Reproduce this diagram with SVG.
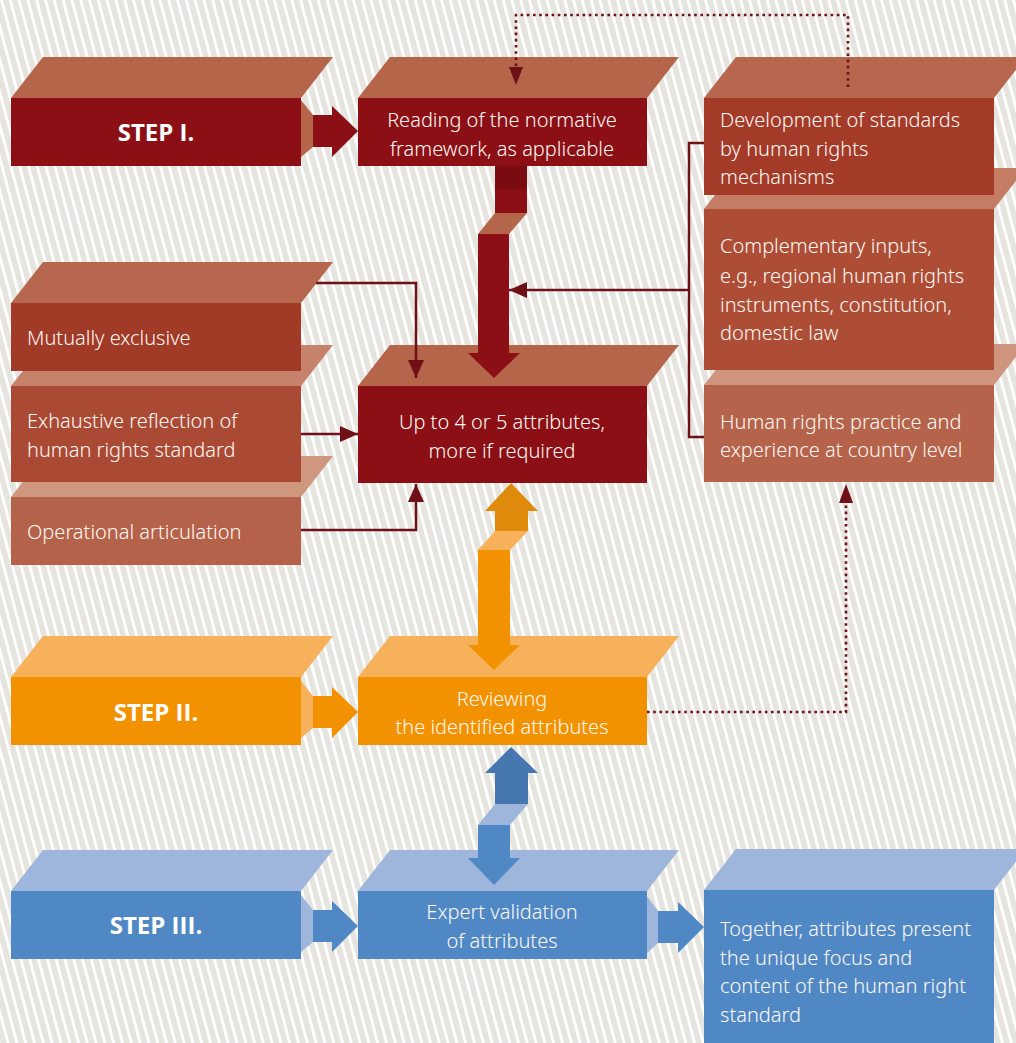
<svg xmlns="http://www.w3.org/2000/svg" width="1016" height="1043" viewBox="0 0 1016 1043">
<defs>
<pattern id="stripes" width="8.5" height="40" patternUnits="userSpaceOnUse" patternTransform="rotate(-15)">
<rect width="8.5" height="40" fill="#e6e4df"/>
<rect x="0" y="0" width="2.8" height="40" fill="#ffffff"/>
</pattern>
<marker id="ah" viewBox="0 0 18 16" refX="18" refY="8" markerWidth="18" markerHeight="16" markerUnits="userSpaceOnUse" orient="auto">
<path d="M0,0 L18,8 L0,16 Z" fill="#6e1016"/>
</marker>
<style>
.txt{font-family:"Noto Sans","DejaVu Sans",sans-serif;font-size:20px;font-weight:300;fill:#fdf8f4}
.step{font-family:"Open Sans","Liberation Sans",sans-serif;font-size:24px;font-weight:bold;fill:#ffffff}
.mid{text-anchor:middle}
.ln{fill:none;stroke:#6e1016;stroke-width:2.5}
.dot{fill:none;stroke:#6e1016;stroke-width:2.6;stroke-dasharray:2.6 3.6}
.redF{fill:#8b0f15}
.redT{fill:#b5654a}
.orF{fill:#f39200}
.orT{fill:#f6b15a}
.blF{fill:#5088c5}
.blT{fill:#9fb6dc}
</style>
</defs>
<rect width="1016" height="1043" fill="url(#stripes)"/>

<!-- Left column, drawn bottom-up -->
<g id="operational">
<polygon points="11,497 301,497 333,456 43,456" fill="#d0977f"/>
<rect x="11" y="497" width="290" height="68" fill="#b5624a"/>
<text class="txt" x="27" y="539">Operational articulation</text>
</g>
<g id="exhaustive">
<polygon points="11,386 301,386 333,345 43,345" fill="#c7826b"/>
<rect x="11" y="386" width="290" height="96" fill="#ab4a34"/>
<text class="txt" x="27" y="428">Exhaustive reflection of</text>
<text class="txt" x="27" y="457">human rights standard</text>
</g>
<g id="mutually">
<polygon points="11,303 301,303 333,262 43,262" fill="#b6674d"/>
<rect x="11" y="303" width="290" height="68" fill="#a13a27"/>
<text class="txt" x="27" y="345">Mutually exclusive</text>
</g>

<!-- Right column, drawn bottom-up -->
<g id="practice">
<polygon points="704,385 994,385 1026,344 736,344" fill="#d0957f"/>
<rect x="704" y="385" width="290" height="97" fill="#b5634b"/>
<text class="txt" x="720" y="429">Human rights practice and</text>
<text class="txt" x="720" y="457">experience at country level</text>
</g>
<g id="complementary">
<polygon points="704,209 994,209 1026,168 736,168" fill="#c47c65"/>
<rect x="704" y="209" width="290" height="161" fill="#ad4d36"/>
<text class="txt" x="720" y="253">Complementary inputs,</text>
<text class="txt" x="720" y="283">e.g., regional human rights</text>
<text class="txt" x="720" y="312">instruments, constitution,</text>
<text class="txt" x="720" y="340">domestic law</text>
</g>
<g id="development">
<polygon points="704,98 994,98 1026,57 736,57" fill="#b6674d"/>
<rect x="704" y="98" width="290" height="97" fill="#a33b28"/>
<text class="txt" x="720" y="127">Development of standards</text>
<text class="txt" x="720" y="156">by human rights</text>
<text class="txt" x="720" y="184">mechanisms</text>
</g>

<!-- Step I row -->
<g id="step1">
<polygon points="11,98 301,98 333,57 43,57" class="redT"/>
<rect x="11" y="98" width="290" height="68" class="redF"/>
<text class="step mid" x="156" y="141">STEP I.</text>
</g>
<g id="reading">
<polygon points="358,98 647,98 679,57 390,57" class="redT"/>
<rect x="358" y="98" width="289" height="68" class="redF"/>
<text class="txt mid" x="502" y="127">Reading of the normative</text>
<text class="txt mid" x="502" y="156">framework, as applicable</text>
</g>
<g id="attributes">
<polygon points="358,386 647,386 679,345 390,345" class="redT"/>
<rect x="358" y="386" width="289" height="97" class="redF"/>
<text class="txt mid" x="502" y="429">Up to 4 or 5 attributes,</text>
<text class="txt mid" x="502" y="458">more if required</text>
</g>

<!-- Step II row -->
<g id="step2">
<polygon points="11,677 301,677 333,636 43,636" class="orT"/>
<rect x="11" y="677" width="290" height="68" class="orF"/>
<text class="step mid" x="156" y="721">STEP II.</text>
</g>
<g id="reviewing">
<polygon points="358,677 647,677 679,636 390,636" class="orT"/>
<rect x="358" y="677" width="289" height="68" class="orF"/>
<text class="txt mid" x="502" y="706">Reviewing</text>
<text class="txt mid" x="502" y="734">the identified attributes</text>
</g>

<!-- Step III row -->
<g id="step3">
<polygon points="11,891 301,891 333,850 43,850" class="blT"/>
<rect x="11" y="891" width="290" height="68" class="blF"/>
<text class="step mid" x="156" y="934">STEP III.</text>
</g>
<g id="expert">
<polygon points="358,891 647,891 679,850 390,850" class="blT"/>
<rect x="358" y="891" width="289" height="68" class="blF"/>
<text class="txt mid" x="502" y="919">Expert validation</text>
<text class="txt mid" x="502" y="948">of attributes</text>
</g>
<g id="together">
<polygon points="704,890 994,890 1026,849 736,849" class="blT"/>
<rect x="704" y="890" width="290" height="153" class="blF"/>
<text class="txt" x="720" y="936">Together, attributes present</text>
<text class="txt" x="720" y="965">the unique focus and</text>
<text class="txt" x="720" y="993">content of the human right</text>
<text class="txt" x="720" y="1022">standard</text>
</g>

<g id="connectors">
<!-- fat horizontal arrows -->
<polygon points="301,100 313,115 313,147 301,157" class="redT"/>
<polygon points="313,115 332,115 332,106 358,131 332,157 332,147 313,147" class="redF"/>
<polygon points="301,681 313,696 313,728 301,738" class="orT"/>
<polygon points="313,696 332,696 332,687 358,712 332,738 332,728 313,728" class="orF"/>
<polygon points="301,895 313,910 313,942 301,952" class="blT"/>
<polygon points="313,910 332,910 332,901 358,926 332,952 332,942 313,942" class="blF"/>
<polygon points="647,896 658,911 658,943 647,953" class="blT"/>
<polygon points="658,911 678,911 678,902 704,927 678,953 678,943 658,943" class="blF"/>

<!-- red down arrow -->
<rect x="495" y="166" width="32" height="23" fill="#7a0b10"/>
<rect x="495" y="189" width="32" height="24" class="redF"/>
<polygon points="495,213 527,213 509,234 478,234" class="redT"/>
<polygon points="478,234 509,234 509,353 520,353 494,378 468,353 478,353" class="redF"/>

<!-- orange double arrow -->
<polygon points="511,483 538,511 528,511 528,531 495,531 495,511 485,511" fill="#e08a0b"/>
<polygon points="495,531 528,531 510,550 478,550" class="orT"/>
<polygon points="478,550 510,550 510,645 520,645 494,670 468,645 478,645" class="orF"/>

<!-- blue double arrow -->
<polygon points="511,747 538,773 528,773 528,804 495,804 495,773 485,773" fill="#4677b0"/>
<polygon points="495,804 528,804 510,825 478,825" class="blT"/>
<polygon points="478,825 510,825 510,858 520,858 494,885 468,858 478,858" class="blF"/>

<!-- thin lines -->
<polyline class="ln" points="316,283 416,283 416,378" marker-end="url(#ah)"/>
<polyline class="ln" points="301,434 358,434" marker-end="url(#ah)"/>
<polyline class="ln" points="301,530 416,530 416,484" marker-end="url(#ah)"/>
<polyline class="ln" points="704,143 689,143 689,437 704,437"/>
<polyline class="ln" points="689,290 509,290" marker-end="url(#ah)"/>

<!-- dotted lines -->
<polyline class="dot" points="848,87 848,15 516,15 516,70"/>
<polygon points="509,67 523,67 516,85" fill="#6e1016"/>
<polyline class="dot" points="647,712 846,712 846,500"/>
<polygon points="839,503 853,503 846,484" fill="#6e1016"/>
</g>
</svg>
